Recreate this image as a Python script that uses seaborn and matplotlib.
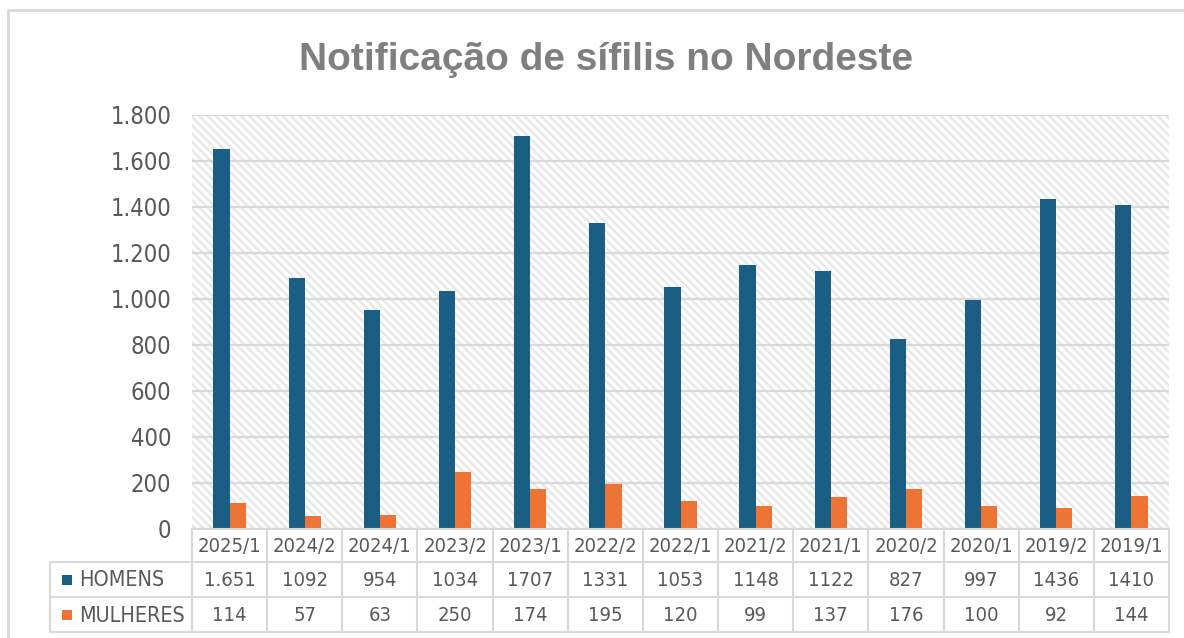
import matplotlib
matplotlib.use("Agg")
import matplotlib.pyplot as plt
import seaborn as sns
import pandas as pd
from matplotlib.patches import Rectangle
from matplotlib.ticker import FuncFormatter

# ---- data ----
periodos = ["2025/1", "2024/2", "2024/1", "2023/2", "2023/1", "2022/2", "2022/1",
            "2021/2", "2021/1", "2020/2", "2020/1", "2019/2", "2019/1"]
homens = [1651, 1092, 954, 1034, 1707, 1331, 1053, 1148, 1122, 827, 997, 1436, 1410]
mulheres = [114, 57, 63, 250, 174, 195, 120, 99, 137, 176, 100, 92, 144]
homens_txt = ["1.651", "1092", "954", "1034", "1707", "1331", "1053", "1148",
              "1122", "827", "997", "1436", "1410"]
mulheres_txt = [str(v) for v in mulheres]
series = ["HOMENS", "MULHERES"]
titulo = "Notificação de sífilis no Nordeste"

BLUE = "#1B5E84"
ORANGE = "#ED7434"
TXT = "#595959"
GRID = "#D9D9D9"

df = pd.DataFrame({
    "periodo": periodos * 2,
    "valor": homens + mulheres,
    "sexo": [series[0]] * len(periodos) + [series[1]] * len(periodos),
})

sns.set_theme(style="white")
plt.rcParams["font.family"] = ["DejaVu Sans"]
plt.rcParams["hatch.linewidth"] = 1.8

W, H = 1184, 638
fig = plt.figure(figsize=(W / 100, H / 100), dpi=100)
fig.patch.set_facecolor("white")

L, R, T, B = 192, 1169, 115, 529
ax = fig.add_axes([L / W, (H - B) / H, (R - L) / W, (B - T) / H])

sns.barplot(data=df, x="periodo", y="valor", hue="sexo", order=periodos,
            hue_order=series, palette=[BLUE, ORANGE], width=0.43,
            saturation=1, ax=ax, legend=False, zorder=3, linewidth=0)

bg = Rectangle((0, 0), 1, 1, transform=ax.transAxes, facecolor="white",
               edgecolor="#E8E8E8", hatch="\\\\\\\\", lw=0, zorder=0)
ax.add_patch(bg)

ax.set_ylim(0, 1800)
ax.set_xlim(-0.5, len(periodos) - 0.5)
ax.set_yticks(range(0, 1801, 200))
ax.yaxis.set_major_formatter(FuncFormatter(lambda v, p: f"{int(v):,}".replace(",", ".")))
ax.grid(axis="y", color=GRID, lw=1.6, zorder=1)
ax.set_axisbelow(True)
ax.set_xticks([])
ax.set_xlabel("")
ax.set_ylabel("")
for s in ax.spines.values():
    s.set_visible(False)
ax.tick_params(axis="y", length=0, pad=15, labelsize=17, labelcolor=TXT)
for t in ax.get_yticklabels():
    t.set_fontstretch("condensed")

# ---- overlay for table, title, border ----
ov = fig.add_axes([0, 0, 1, 1], zorder=5)
ov.set_xlim(0, W)
ov.set_ylim(H, 0)
ov.axis("off")
ov.patch.set_alpha(0)

# chart border
ov.plot([8, W], [10, 10], color=GRID, lw=2)
ov.plot([8, 8], [10, H], color=GRID, lw=2)

# title
ov.text((305 + 908) / 2, 60, titulo, ha="center", va="center",
        fontsize=28, fontweight="bold", color="#7F7F7F",
        family=["Liberation Sans", "DejaVu Sans"])

# table geometry
n = len(periodos)
cw = (R - L) / n
rows_y = [B, 562, 597, 632]
lab_x0 = 50
lc = "#D9D9D9"
ov.plot([L, R], [rows_y[0], rows_y[0]], color=lc, lw=1.5)
for y in rows_y[1:]:
    ov.plot([lab_x0, R], [y, y], color=lc, lw=1.5)
ov.plot([lab_x0, lab_x0], [rows_y[1], rows_y[3]], color=lc, lw=1.5)
for k in range(n + 1):
    ov.plot([L + k * cw, L + k * cw], [rows_y[0], rows_y[3]], color=lc, lw=1.5)

fs = 14.5
for i in range(n):
    cx = L + (i + 0.5) * cw
    for row, txt in enumerate([periodos[i], homens_txt[i], mulheres_txt[i]]):
        ov.text(cx, (rows_y[row] + rows_y[row + 1]) / 2 + 1, txt, ha="center",
                va="center", fontsize=fs, color=TXT, fontstretch="condensed")

for j, (name, col) in enumerate(zip(series, [BLUE, ORANGE])):
    yc = (rows_y[j + 1] + rows_y[j + 2]) / 2
    ov.add_patch(Rectangle((62, yc - 5), 10, 10, facecolor=col, lw=0))
    ov.text(79, yc + 1, name, ha="left", va="center", fontsize=fs + 1, color=TXT,
            fontstretch="condensed")

fig.savefig("out.png", dpi=100)
